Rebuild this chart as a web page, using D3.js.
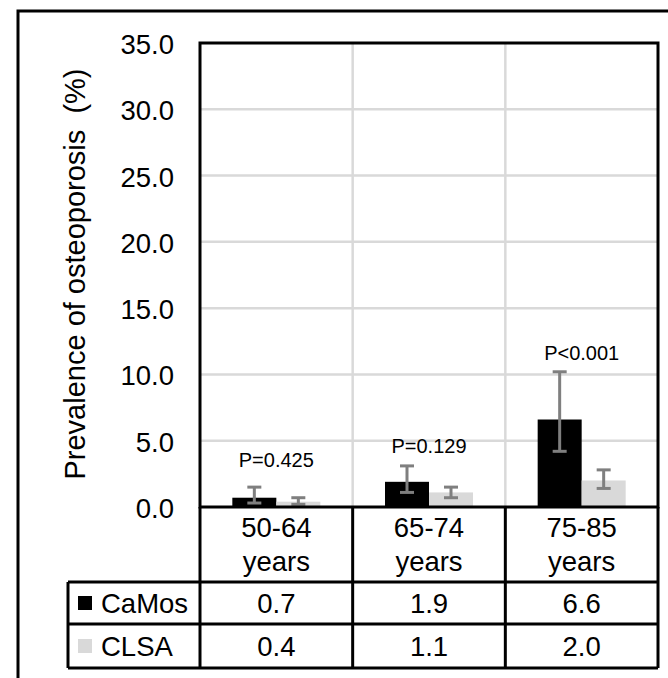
<!DOCTYPE html>
<html><head><meta charset="utf-8">
<script src="https://cdn.jsdelivr.net/npm/d3@7/dist/d3.min.js"></script>
<style>html,body{margin:0;padding:0;background:#fff;}svg{display:block;font-family:"Liberation Sans",Arial,sans-serif;}</style>
</head><body>
<svg id="chart" width="668" height="678"></svg>
<script>
const categories = ["50-64|years", "65-74|years", "75-85|years"];
const seriesNames = ["CaMos", "CLSA"];
const camos = [0.7, 1.9, 6.6];
const clsa = [0.4, 1.1, 2.0];
const camosLow = [0.3, 1.1, 4.2];
const camosHigh = [1.5, 3.1, 10.2];
const clsaLow = [0.2, 0.7, 1.4];
const clsaHigh = [0.7, 1.5, 2.8];
const pLabels = ["P=0.425", "P=0.129", "P<0.001"];
const pLabelY = [3.0, 4.1, 11.1];
const yTicks = [0, 5, 10, 15, 20, 25, 30, 35];
const yTitle = "Prevalence of osteoporosis\u00a0 (%)";

const colors = ["#000000", "#d9d9d9"];
const errColor = "#7f7f7f";
const svg = d3.select("#chart");
const L = 200, R = 658, T = 43, B = 507;
const FS = 27.5;

const x = d3.scaleBand().domain(categories).range([L, R]).paddingInner(0).paddingOuter(0);
const x1 = d3.scaleBand().domain(seriesNames).range([0, 88]);
const y = d3.scaleLinear().domain([0, 35]).range([B, T]);

// outer frame
svg.append("rect").attr("x", 18).attr("y", 11).attr("width", 700).attr("height", 720)
  .attr("fill", "none").attr("stroke", "#000").attr("stroke-width", 3);

// gridlines
svg.append("g").selectAll("line").data(yTicks.slice(1, -1)).join("line")
  .attr("x1", L).attr("x2", R).attr("y1", d => y(d)).attr("y2", d => y(d))
  .attr("stroke", "#d9d9d9").attr("stroke-width", 2.5);
svg.append("g").selectAll("line").data(categories.slice(1)).join("line")
  .attr("x1", d => x(d)).attr("x2", d => x(d)).attr("y1", T).attr("y2", B)
  .attr("stroke", "#d9d9d9").attr("stroke-width", 2.5);

// bars
const seriesData = [camos, clsa];
const lows = [camosLow, clsaLow];
const highs = [camosHigh, clsaHigh];
seriesNames.forEach((s, si) => {
  const g = svg.append("g");
  g.selectAll("rect").data(categories).join("rect")
    .attr("x", d => x(d) + (x.bandwidth() - 88) / 2 + x1(s))
    .attr("width", x1.bandwidth())
    .attr("y", (d, i) => y(seriesData[si][i]))
    .attr("height", (d, i) => y(0) - y(seriesData[si][i]))
    .attr("fill", colors[si]);
});
// error bars
seriesNames.forEach((s, si) => {
  const g = svg.append("g").attr("stroke", errColor).attr("stroke-width", 3);
  categories.forEach((c, i) => {
    const cx = x(c) + (x.bandwidth() - 88) / 2 + x1(s) + x1.bandwidth() / 2;
    g.append("line").attr("x1", cx).attr("x2", cx).attr("y1", y(lows[si][i])).attr("y2", y(highs[si][i]));
    [lows[si][i], highs[si][i]].forEach(v => {
      g.append("line").attr("x1", cx - 7).attr("x2", cx + 7).attr("y1", y(v)).attr("y2", y(v));
    });
  });
});

// P labels
svg.append("g").selectAll("text").data(pLabels).join("text")
  .attr("x", (d, i) => x(categories[i]) + x.bandwidth() / 2)
  .attr("y", (d, i) => y(pLabelY[i]))
  .attr("text-anchor", "middle").attr("font-size", 20).attr("fill", "#000")
  .text(d => d);

// plot border
svg.append("rect").attr("x", L).attr("y", T).attr("width", R - L).attr("height", B - T)
  .attr("fill", "none").attr("stroke", "#000").attr("stroke-width", 3);

// y axis labels
const yAxis = d3.axisLeft(y).tickValues(yTicks).tickFormat(d3.format(".1f")).tickSize(0).tickPadding(26);
const ya = svg.append("g").attr("transform", `translate(${L},0)`).call(yAxis);
ya.select(".domain").remove();
ya.selectAll("text").attr("font-size", FS).attr("font-family", "Liberation Sans, Arial, sans-serif").attr("fill", "#000").attr("dy", "0.38em");

// y title
svg.append("text").attr("transform", `translate(85,274) rotate(-90)`)
  .attr("text-anchor", "middle").attr("font-size", 29).attr("fill", "#000")
  .text(yTitle);

// table
const tb = svg.append("g").attr("stroke", "#000").attr("stroke-width", 3);
const rowY = [B, 582, 624, 668];
[L].concat(categories.map(c => x(c) + x.bandwidth())).forEach(cx => {
  tb.append("line").attr("x1", cx).attr("x2", cx).attr("y1", B).attr("y2", 668);
});
tb.append("line").attr("x1", 68).attr("x2", 68).attr("y1", 582).attr("y2", 668);
[582, 624, 668].forEach(ry => tb.append("line").attr("x1", 68).attr("x2", R).attr("y1", ry).attr("y2", ry));

// header text
categories.forEach(c => {
  const parts = c.split("|");
  const cx = x(c) + x.bandwidth() / 2;
  svg.append("text").attr("x", cx).attr("y", 537).attr("text-anchor", "middle").attr("font-size", FS).text(parts[0]);
  svg.append("text").attr("x", cx).attr("y", 571).attr("text-anchor", "middle").attr("font-size", FS).text(parts[1]);
});
// row values
seriesNames.forEach((s, si) => {
  const cy = (rowY[si + 1] + rowY[si + 2]) / 2;
  svg.append("rect").attr("x", 78).attr("y", cy - 7).attr("width", 14).attr("height", 14).attr("fill", colors[si]);
  svg.append("text").attr("x", 101).attr("y", cy + 10).attr("font-size", FS).text(s);
  categories.forEach((c, i) => {
    svg.append("text").attr("x", x(c) + x.bandwidth() / 2).attr("y", cy + 10)
      .attr("text-anchor", "middle").attr("font-size", FS).text(seriesData[si][i].toFixed(1));
  });
});
</script>
</body></html>
